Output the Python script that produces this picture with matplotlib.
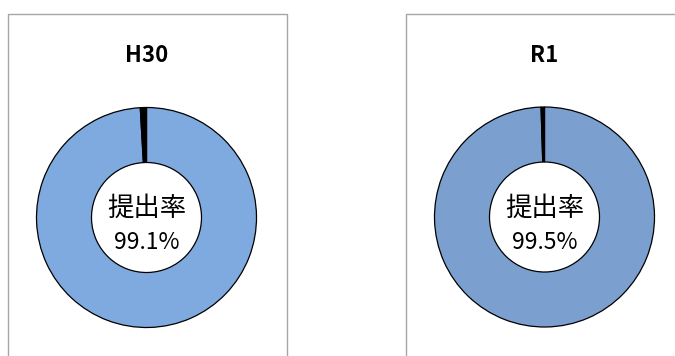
import matplotlib
matplotlib.use('Agg')
import matplotlib.pyplot as plt
from matplotlib.patches import Rectangle

plt.rcParams['font.family'] = ['Noto Sans CJK JP', 'DejaVu Sans']

# Data
years = ['H30', 'R1']
rates = [99.1, 99.5]          # submission rate (%)
ring_colors = ['#7EAADF', '#7BA0CF']
center_label = '提出率'

W, H = 675, 356
fig = plt.figure(figsize=(W / 100, H / 100), dpi=100)
fig.patch.set_facecolor('white')

# panel frames (pixel boxes, top-left origin)
frames = [(8, 14, 279, 360), (406, 14, 290, 360)]
for x0, y0, w, h in frames:
    fig.patches.append(Rectangle((x0 / W, 1 - (y0 + h) / H), w / W, h / H,
                                 transform=fig.transFigure, fill=False,
                                 edgecolor='#A6A6A6', linewidth=1.0))

# donut centres / radius in pixels
centres = [(146.5, 217.5), (544.5, 217.0)]
radius = 110

for year, rate, col, (cx, cy) in zip(years, rates, ring_colors, centres):
    ax = fig.add_axes([(cx - radius) / W, (H - cy - radius) / H,
                       2 * radius / W, 2 * radius / H])
    ax.pie([rate, 100 - rate], colors=[col, 'black'], startangle=90,
           counterclock=False, radius=1.0,
           wedgeprops=dict(width=0.5, edgecolor='black', linewidth=0.9))
    ax.set_xlim(-1.0, 1.0)
    ax.set_ylim(-1.0, 1.0)
    ax.set_aspect('auto')
    ax.axis('off')
    ax.text(0, 0.08, center_label, ha='center', va='center', fontsize=19)
    ax.text(0, -0.23, f'{rate}%', ha='center', va='center', fontsize=16.5)
    fig.text(cx / W, 1 - 55 / H, year, ha='center', va='center',
             fontsize=16, fontweight='bold')

fig.savefig('out.png', dpi=100)
